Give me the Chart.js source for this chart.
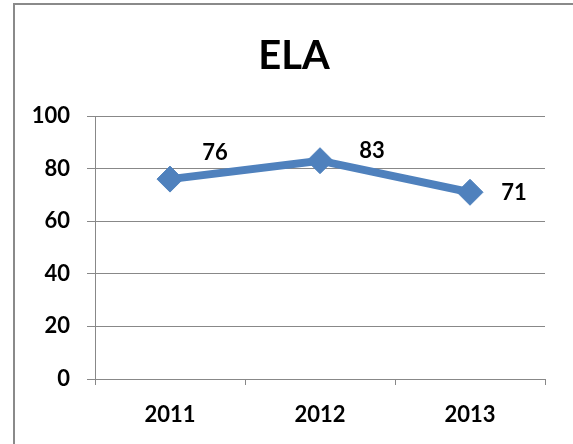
<!DOCTYPE html>
<html>
<head>
<meta charset="utf-8">
<script src="https://cdn.jsdelivr.net/npm/chart.js@4"></script>
<style>
  body { margin: 0; background: #fff; }
  #wrap { position: relative; width: 573px; height: 444px; }
  #frame { position: absolute; left: 13px; top: 3px; width: 600px; height: 500px;
           border: 2px solid #8a8a8a; pointer-events: none; }
</style>
</head>
<body>
<div id="wrap">
  <canvas id="chart" width="573" height="444"></canvas>
  <div id="frame"></div>
</div>
<script>
const years = ['2011', '2012', '2013'];
const elaScores = [76, 83, 71];
const yTicks = [0, 20, 40, 60, 80, 100];
const chartTitle = 'ELA';

// label nudges (pixels) relative to each point
const labelShift = [[45, -26], [52, -10], [44, 1]];

const fontFamily = 'Lato, "Open Sans", sans-serif';

// title is centred on the whole frame, not the plot, so draw it by hand
const titleAndLabels = {
  id: 'titleAndLabels',
  afterDatasetsDraw(chart) {
    const c = chart.ctx;
    const meta = chart.getDatasetMeta(0);
    c.save();
    c.fillStyle = '#000';
    c.textAlign = 'center';
    c.textBaseline = 'middle';
    c.font = 'bold 40px ' + fontFamily;
    c.fillText(chartTitle, 294, 56);
    c.font = 'bold 22px ' + fontFamily;
    meta.data.forEach(function(pt, i) {
      c.fillText(String(elaScores[i]), pt.x + labelShift[i][0], pt.y + labelShift[i][1]);
    });
    c.restore();
  }
};

new Chart(document.getElementById('chart'), {
  type: 'line',
  data: {
    labels: years,
    datasets: [{
      data: elaScores,
      borderColor: '#4F81BD',
      backgroundColor: '#4F81BD',
      borderWidth: 8,
      pointStyle: 'rectRot',
      pointRadius: 13,
      pointBorderWidth: 1,
      tension: 0
    }]
  },
  options: {
    responsive: false,
    animation: false,
    layout: { padding: { left: 0, right: 28, top: 116, bottom: 0 } },
    plugins: {
      legend: { display: false },
      tooltip: { enabled: false },
      title: { display: false }
    },
    scales: {
      x: {
        offset: true,
        grid: { offset: true, drawOnChartArea: false, color: '#888', tickLength: 6 },
        border: { color: '#888', width: 1 },
        ticks: { color: '#000', padding: 17, font: { family: fontFamily, size: 22, weight: 'bold' } },
        afterFit(scale) { scale.height = 65; }
      },
      y: {
        min: 0,
        max: 100,
        afterBuildTicks(scale) { scale.ticks = yTicks.map(v => ({ value: v })); },
        grid: { color: '#888', tickLength: 8 },
        border: { color: '#888', width: 1 },
        ticks: { color: '#000', padding: 17, font: { family: fontFamily, size: 22, weight: 'bold' } },
        afterFit(scale) { scale.width = 95; }
      }
    }
  },
  plugins: [titleAndLabels]
});
</script>
</body>
</html>
